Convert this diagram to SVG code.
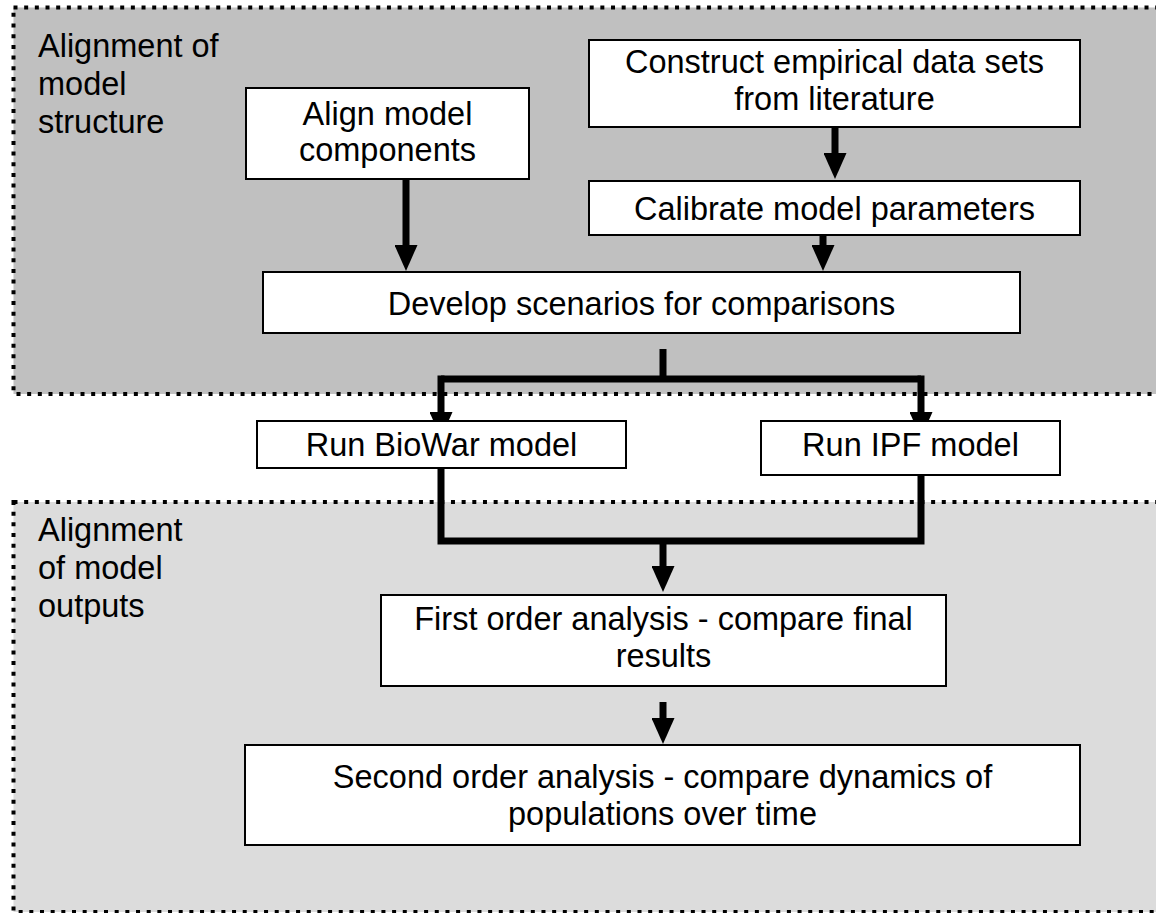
<svg xmlns="http://www.w3.org/2000/svg" width="1156" height="913" viewBox="0 0 1156 913">
<style>
.region{stroke:#000;stroke-width:4;stroke-dasharray:4 6.67}
.box{fill:#fff;stroke:#000;stroke-width:2}
.t{font-family:"Liberation Sans",Arial,sans-serif;font-size:32.5px;fill:#000}
.c{text-anchor:middle}
.conn{fill:none;stroke:#000;stroke-width:7;stroke-linejoin:miter}
</style>
<defs>
<marker id="arr" viewBox="0 0 26 23" refX="1" refY="11.5" markerWidth="26" markerHeight="23" markerUnits="userSpaceOnUse" orient="auto">
<polygon points="0,0 26,11.5 0,23" fill="#000"/>
</marker>
</defs>
<rect width="1156" height="913" fill="#fff"/>
<g id="region-structure">
<rect class="region" x="13.5" y="7.5" width="1160" height="386.5" fill="#c0c0c0"/>
<text class="t" x="38" y="57">Alignment of</text>
<text class="t" x="38" y="95">model</text>
<text class="t" x="38" y="133">structure</text>
</g>
<g id="region-outputs">
<rect class="region" x="13.5" y="502" width="1160" height="410" fill="#dcdcdc"/>
<text class="t" x="38" y="541">Alignment</text>
<text class="t" x="38" y="579">of model</text>
<text class="t" x="38" y="617">outputs</text>
</g>
<g id="connectors">
<path class="conn" d="M835,127 V154" marker-end="url(#arr)"/>
<path class="conn" d="M406,179 V246" marker-end="url(#arr)"/>
<path class="conn" d="M823,235 V246" marker-end="url(#arr)"/>
<path class="conn" d="M663,349 V379"/>
<path class="conn" d="M441,379 H921"/>
<path class="conn" d="M441,375.5 V413" marker-end="url(#arr)"/>
<path class="conn" d="M921,375.5 V413" marker-end="url(#arr)"/>
<path class="conn" d="M441,468 V541 H921 V475"/>
<path class="conn" d="M663,541 V567" marker-end="url(#arr)"/>
<path class="conn" d="M663,702 V719" marker-end="url(#arr)"/>
</g>
<g id="node-align">
<rect class="box" x="246" y="88" width="283" height="91"/>
<text class="t c" x="387.5" y="125">Align model</text>
<text class="t c" x="387.5" y="161">components</text>
</g>
<g id="node-construct">
<rect class="box" x="589" y="40" width="491" height="87"/>
<text class="t c" x="834.5" y="73">Construct empirical data sets</text>
<text class="t c" x="834.5" y="110">from literature</text>
</g>
<g id="node-calibrate">
<rect class="box" x="589" y="181" width="491" height="54"/>
<text class="t c" x="834.5" y="220">Calibrate model parameters</text>
</g>
<g id="node-develop">
<rect class="box" x="263" y="272" width="757" height="61"/>
<text class="t c" x="641.5" y="315">Develop scenarios for comparisons</text>
</g>
<g id="node-biowar">
<rect class="box" x="257" y="421" width="369" height="47"/>
<text class="t c" x="441.5" y="456">Run BioWar model</text>
</g>
<g id="node-ipf">
<rect class="box" x="761" y="421" width="299" height="54"/>
<text class="t c" x="910.5" y="456">Run IPF model</text>
</g>
<g id="node-first">
<rect class="box" x="381" y="595" width="565" height="91"/>
<text class="t c" x="663.5" y="630">First order analysis - compare final</text>
<text class="t c" x="663.5" y="667">results</text>
</g>
<g id="node-second">
<rect class="box" x="245" y="745" width="835" height="100"/>
<text class="t c" x="662.5" y="788">Second order analysis - compare dynamics of</text>
<text class="t c" x="662.5" y="825">populations over time</text>
</g>
</svg>
